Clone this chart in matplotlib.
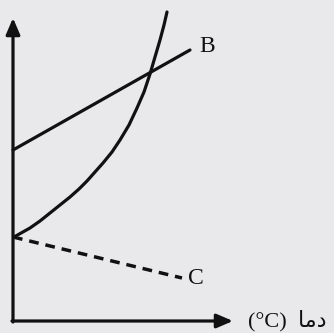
import matplotlib.pyplot as plt

# Values (arbitrary units, origin at the axes corner)
curve_t = [1, 9, 17, 27, 37, 47, 57, 66, 74, 82, 90, 99, 107, 116, 124, 131, 137, 142, 147, 151, 154]
curve_v = [84, 88.5, 93, 100, 108, 116, 124, 132, 140, 149, 158, 169, 181, 196, 213, 229, 247, 264, 281, 296, 309]

line_b_t = [0, 177]
line_b_v = [171, 271]

line_c_t = [0, 169]
line_c_v = [84, 43]

label_b = "B"
label_c = "C"
x_label = "(°C)  " + "\uFE8E\uFEE3\uFEA9"  # دما, presentation forms in visual order

bg = '#e9e9eb'
ink = '#111111'
fam = ['Liberation Serif', 'DejaVu Sans']

fig = plt.figure(figsize=(3.34, 3.33), dpi=100, facecolor=bg)
ax = fig.add_axes([13 / 334, 12 / 333, 220 / 334, 303 / 333])
ax.set_facecolor(bg)
ax.set_xlim(0, 220)
ax.set_ylim(0, 303)
for s in ax.spines.values():
    s.set_visible(False)
ax.set_xticks([])
ax.set_yticks([])

# Curves
ax.plot(curve_t, curve_v, color=ink, lw=2.3, solid_capstyle='round',
        solid_joinstyle='round', clip_on=False)
ax.plot(line_b_t, line_b_v, color=ink, lw=2.3, solid_capstyle='round', clip_on=False)
ax.plot(line_c_t, line_c_v, color=ink, lw=2.5, linestyle=(0, (2.8, 2.0)), clip_on=False)

# Axes with arrows
arrow = dict(arrowstyle='-|>,head_length=0.7,head_width=0.3', color=ink, lw=2.3,
             shrinkA=0, shrinkB=0, mutation_scale=14)
ax.annotate('', xy=(0, 303), xytext=(0, -1), arrowprops=arrow, annotation_clip=False)
ax.annotate('', xy=(220, 0), xytext=(-1, 0), arrowprops=arrow, annotation_clip=False)

# Labels
ax.text(194, 275, label_b, fontsize=17, family=fam, ha='center', va='center', color=ink)
ax.text(183, 42, label_c, fontsize=17, family=fam, ha='center', va='center', color=ink)
ax.text(235, 0, x_label, fontsize=16, family=fam, ha='left', va='center',
        color=ink, clip_on=False)

fig.savefig('out.png', dpi=100, facecolor=bg)
